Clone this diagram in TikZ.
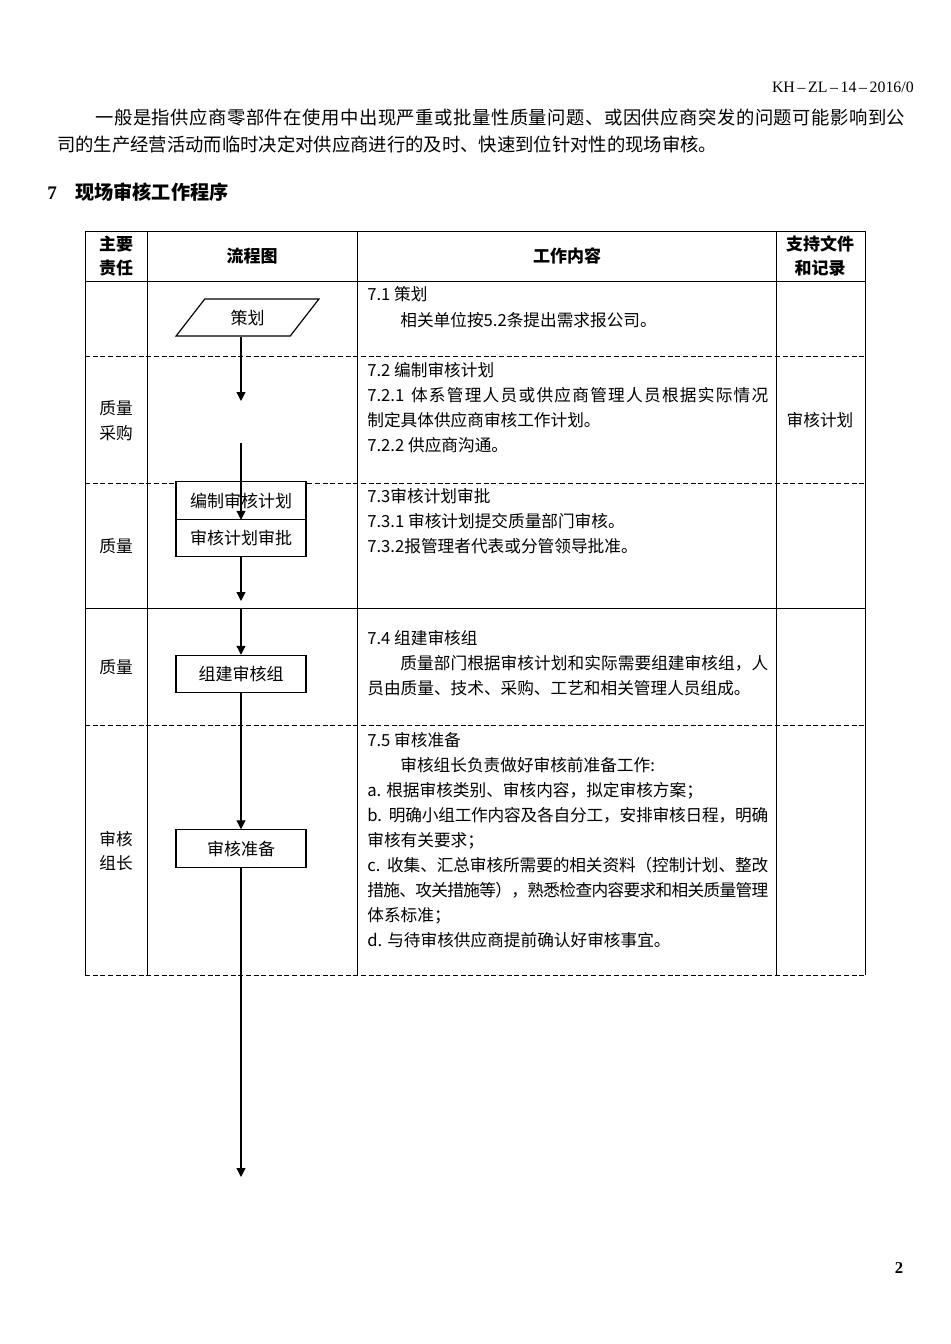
\documentclass[tikz,border=0pt]{standalone}
\usepackage{fontspec}
\setmainfont{Liberation Serif}
\newfontfamily\cjk{Noto Sans CJK SC}
\usetikzlibrary{arrows.meta,shapes.geometric}
\newcount\hancode
\hancode="4E00
\loop
  \XeTeXcharclass\hancode=1
  \advance\hancode by 1
\ifnum\hancode<"A000 \repeat
\XeTeXcharclass"3001=1 \XeTeXcharclass"3002=1
\XeTeXcharclass"FF08=1 \XeTeXcharclass"FF09=1
\XeTeXcharclass"FF0C=1 \XeTeXcharclass"FF1A=1 \XeTeXcharclass"FF1B=1
\XeTeXinterchartokenstate=1
\XeTeXinterchartoks 1 1 = {\hskip 0pt plus 1pt minus 0.6pt}
\XeTeXinterchartoks 0 1 = {\hskip 0pt plus 1pt minus 0.6pt}
\XeTeXinterchartoks 1 0 = {\hskip 0pt plus 1pt minus 0.6pt}
\newcommand\spreadline[2]{\makebox[#1][s]{#2}}
\tikzstyle{rule}=[line width=0.6pt]
\tikzstyle{dashrule}=[line width=0.6pt,dash pattern=on 3pt off 1.6pt]
\tikzstyle{body}=[anchor=west,inner sep=0pt,text height=0.88em,text depth=0.12em,font=\cjk\fontsize{10}{12}\selectfont]
\tikzstyle{duty}=[inner sep=0pt,text height=0.88em,text depth=0.12em,font=\cjk\fontsize{10}{12}\selectfont]
\tikzstyle{head}=[inner sep=0pt,text height=0.88em,text depth=0.12em,font=\cjk\bfseries\fontsize{10.2}{12}\selectfont]
\tikzstyle{stepbox}=[draw,line width=0.7pt,fill=white,minimum width=78pt,minimum height=22.4pt,inner sep=0pt,font=\cjk\fontsize{10.2}{12}\selectfont]
\tikzstyle{planbox}=[draw,line width=0.7pt,fill=white,trapezium,trapezium left angle=54,trapezium right angle=126,trapezium stretches=true,minimum width=85.8pt,minimum height=22.2pt,inner sep=0pt,font=\cjk\fontsize{10.2}{12}\selectfont]
\tikzstyle{flow}=[line width=0.7pt,-{Triangle[width=5.4pt,length=5.4pt]}]

\begin{document}
\begin{tikzpicture}[x=0.6pt,y=-0.6pt]
\useasboundingbox (0,0) rectangle (950,1344);
\node[anchor=east,inner sep=0pt,font=\fontsize{9.5}{11}\selectfont] (docno) at (914,87) {KH\,\textendash\,ZL\,\textendash\,14\,\textendash\,2016/0};
\node[body,font=\cjk\fontsize{11}{13}\selectfont] (para1) at (95,118) {\spreadline{486pt}{一般是指供应商零部件在使用中出现严重或批量性质量问题、或因供应商突发的问题可能影响到公}};
\node[body,font=\cjk\fontsize{11}{13}\selectfont] (para2) at (57,145) {司的生产经营活动而临时决定对供应商进行的及时、快速到位针对性的现场审核。};
\node[body,font=\bfseries\fontsize{11.5}{13}\selectfont] (secnum) at (47,193) {7};
\node[body,font=\cjk\bfseries\fontsize{11.5}{13}\selectfont] (sectitle) at (75,193) {现场审核工作程序};

\draw[rule] (85,231) -- (865,231);
\draw[rule] (85,281) -- (865,281);
\draw[dashrule] (85,356) -- (865,356);
\draw[dashrule] (85,483) -- (865,483);
\draw[rule] (85,608) -- (865,608);
\draw[dashrule] (85,725) -- (865,725);
\draw[dashrule] (85,975) -- (865,975);
\draw[rule] (85,231) -- (85,975);
\draw[rule] (147,231) -- (147,975);
\draw[rule] (357,231) -- (357,975);
\draw[rule] (776,231) -- (776,975);
\draw[rule] (865,231) -- (865,975);

\node[head] (hduty1) at (116,244) {主要};
\node[head] (hduty2) at (116,268) {责任};
\node[head] (hchart) at (252,256) {流程图};
\node[head] (hwork) at (567,256) {工作内容};
\node[head] (hdoc1) at (820,244) {支持文件};
\node[head] (hdoc2) at (820,268) {和记录};

\node[duty] (duty2a) at (116,408) {质量};
\node[duty] (duty2b) at (116,433) {采购};
\node[duty] (duty3) at (116,546) {质量};
\node[duty] (duty4) at (116,667) {质量};
\node[duty] (duty5a) at (116,839) {审核};
\node[duty] (duty5b) at (116,863) {组长};
\node[duty] (rec2) at (820,420) {审核计划};

\node[body] (w71a) at (367,294) {7.1 策划};
\node[body] (w71b) at (400,320) {相关单位按5.2条提出需求报公司。};
\node[body] (w72a) at (367,370) {7.2 编制审核计划};
\node[body] (w72b) at (367,395) {\spreadline{240.6pt}{7.2.1\hspace{4pt}体系管理人员或供应商管理人员根据实际情况}};
\node[body] (w72c) at (367,420) {制定具体供应商审核工作计划。};
\node[body] (w72d) at (367,445) {7.2.2 供应商沟通。};
\node[body] (w73a) at (367,496) {7.3审核计划审批};
\node[body] (w73b) at (367,521) {7.3.1 审核计划提交质量部门审核。};
\node[body] (w73c) at (367,546) {7.3.2报管理者代表或分管领导批准。};
\node[body] (w74a) at (367,638) {7.4 组建审核组};
\node[body] (w74b) at (400,663) {\spreadline{220.8pt}{质量部门根据审核计划和实际需要组建审核组，人}};
\node[body] (w74c) at (367,688) {员由质量、技术、采购、工艺和相关管理人员组成。};
\node[body] (w75a) at (367,740) {7.5 审核准备};
\node[body] (w75b) at (400,765) {审核组长负责做好审核前准备工作:};
\node[body] (w75c) at (367,790) {a. 根据审核类别、审核内容，拟定审核方案；};
\node[body] (w75d) at (367,815) {\spreadline{240.6pt}{b.\hspace{4pt}明确小组工作内容及各自分工，安排审核日程，明确}};
\node[body] (w75e) at (367,840) {审核有关要求；};
\node[body] (w75f) at (367,865) {\spreadline{240.6pt}{c.\hspace{4pt}收集、汇总审核所需要的相关资料（控制计划、整改}};
\node[body] (w75g) at (367,890) {\spreadline{240.6pt}{措施、攻关措施等），熟悉检查内容要求和相关质量管理}};
\node[body] (w75h) at (367,915) {体系标准；};
\node[body] (w75i) at (367,940) {d. 与待审核供应商提前确认好审核事宜。};

\node[planbox] (plan) at (247.5,317.5) {策划};
\node[stepbox] (draft) at (241,500.5) {编制审核计划};
\node[stepbox] (approve) at (241,538) {审核计划审批};
\node[stepbox] (team) at (241,674) {组建审核组};
\node[stepbox] (prep) at (241,848.5) {审核准备};

\coordinate (tip1) at (241,401);
\coordinate (start2) at (241,443);
\coordinate (tip3) at (241,601);
\coordinate (start4) at (241,608);
\coordinate (tip6) at (241,1177);

\draw[flow] (plan.south -| draft) -- (tip1);
\draw[flow] (start2) -- (draft.south);
\draw[flow] (approve.south) -- (tip3);
\draw[flow] (start4) -- (team.north);
\draw[flow] (team.south) -- (prep.north);
\draw[flow] (prep.south) -- (tip6);

\node[inner sep=0pt,font=\bfseries\fontsize{10}{12}\selectfont] (pagenum) at (899,1268) {2};
\end{tikzpicture}
\end{document}
